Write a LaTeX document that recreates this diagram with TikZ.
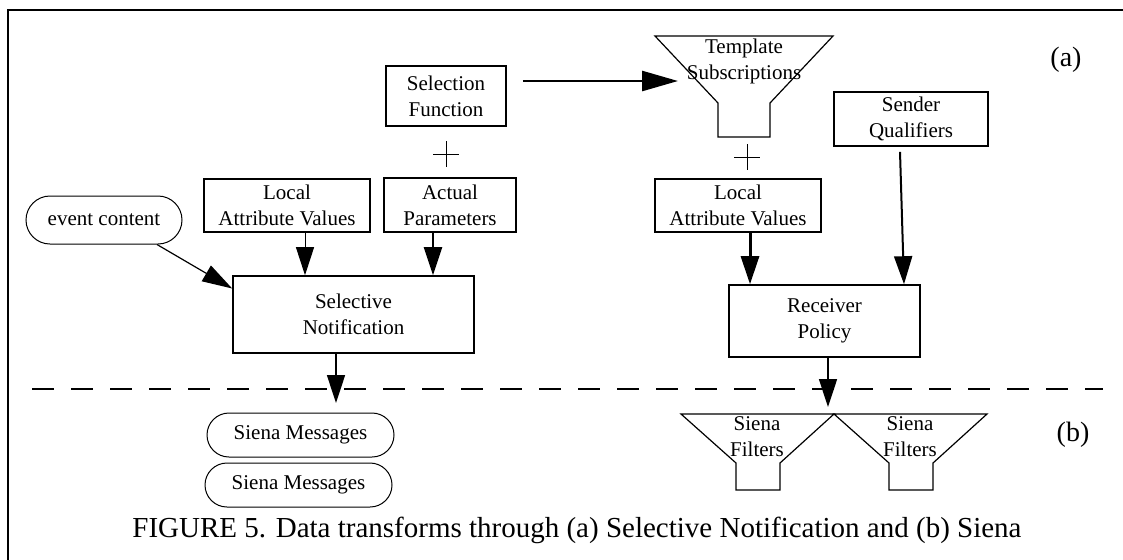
\documentclass[tikz,border=0pt]{standalone}
\usepackage{fontspec}
\setmainfont{Liberation Serif}
\usetikzlibrary{arrows.meta}
\tikzset{
        every node/.style={font=\fontsize{10.5}{13}\selectfont, align=center, inner sep=0pt},
        block/.style={draw, line width=0.8pt}, % plain boxes
        pill/.style={draw, line width=0.5pt, rounded corners=11pt}, % rounded message boxes
        funnel/.style={draw, line width=0.6pt, line join=miter},
        flow/.style={-{Triangle[length=14pt,width=9pt]}}, % big filled heads
        label/.style={font=\fontsize{14}{16}\selectfont},
}
\begin{document}
\begin{tikzpicture}[x=0.5pt,y=-0.5pt]
\useasboundingbox (0,0) rectangle (1123,559);
\draw[line width=1.2pt] (8,575) -- (8,10) -- (1135,10);

% part (a)
\node[block, minimum width=60pt, minimum height=30pt] (selfun) at (446,96) {Selection\\Function};
\node[block, minimum width=83pt, minimum height=26.5pt] (llav) at (287,205.5) {Local\\Attribute Values};
\node[block, minimum width=66pt, minimum height=27pt] (actpar) at (450,205) {Actual\\Parameters};
\node[pill, rounded corners=12pt, minimum width=78pt, minimum height=24pt] (evt) at (104,220) {event content};
\node[block, minimum width=120.5pt, minimum height=38.5pt] (selnot) at (353.5,314.5) {Selective\\Notification};

\draw[funnel] (655,36) -- (833,36) -- (770,103) -- (770,137) -- (718,137) -- (718,103) -- cycle;
\node (tmpl) at (744,61) {Template\\Subscriptions};
\coordinate (tmplin) at (678,81);

\node[block, minimum width=83pt, minimum height=26.5pt] (rlav) at (738,205.5) {Local\\Attribute Values};
\node[block, minimum width=77pt, minimum height=27pt] (sendq) at (911,119) {Sender\\Qualifiers};
\node[block, minimum width=95.5pt, minimum height=36pt] (recpol) at (824.5,321) {Receiver\\Policy};

\foreach \p in {(446,154),(747,157)}
  \draw[line width=0.5pt] \p +(-13,0) -- +(13,0) \p +(0,-13) -- +(0,13);

% part (b)
\node[pill, minimum width=93.5pt, minimum height=22pt] (msga) at (300.5,435) {Siena Messages};
\node[pill, minimum width=93.5pt, minimum height=22pt] (msgb) at (298.5,485) {Siena Messages};
\coordinate (msgin) at (336,403);

\foreach \x/\n in {681/filta,834/filtb}{
  \draw[funnel] (\x,414) -- +(153,0) -- +(99,49) -- +(99,76) -- +(55,76) -- +(55,49) -- cycle;
  \node (\n) at (\x+76,436.5) {Siena\\Filters};
}
\coordinate (filtin) at (828,407);

% arrows
\draw[flow, line width=1.3pt, -{Triangle[length=18pt,width=10pt]}] ([xshift=8pt,yshift=7.5pt]selfun.east) -- (tmplin);
\draw[flow, line width=0.5pt] ([xshift=9pt]llav.south) -- ([xshift=9pt]llav.south |- selnot.north);
\draw[flow, line width=1pt] ([xshift=-8.5pt]actpar.south) -- ([xshift=-8.5pt]actpar.south |- selnot.north);
\draw[flow, line width=0.6pt, -{Triangle[length=15pt,width=9pt]}] ([xshift=26.5pt]evt.south) -- ([yshift=13pt]selnot.west);
\draw[flow, line width=0.8pt] ([xshift=-8.75pt]selnot.south) -- (msgin);
\draw[flow, line width=1.5pt] ([xshift=6pt]rlav.south) -- ([xshift=6pt]rlav.south |- recpol.north);
\draw[flow, line width=1pt] ([xshift=-5.5pt,yshift=-2.5pt]sendq.south) -- ([xshift=39.75pt]recpol.north);
\draw[flow, line width=0.8pt] ([xshift=1.75pt]recpol.south) -- (filtin);

\draw[line width=1pt, dash pattern=on 11pt off 8.5pt] (32,389) -- (1103,389);

\node[label] (parta) at (1066,60) {(a)};
\node[label] (partb) at (1073,435) {(b)};
\node[anchor=base, font=\fontsize{14.5}{17}\selectfont] (caption) at (577,537)
  {FIGURE 5. Data transforms through (a) Selective Notification and (b) Siena};
\end{tikzpicture}
\end{document}
